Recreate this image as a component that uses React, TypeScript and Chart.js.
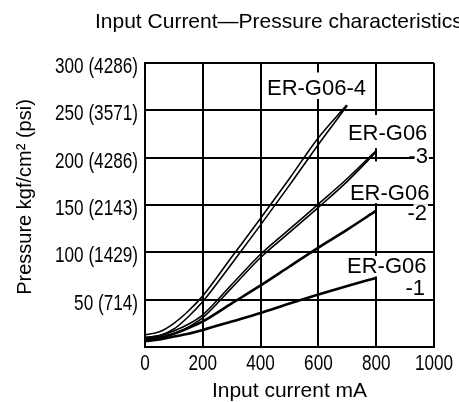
import React, { useEffect, useRef } from 'react';
import { Chart, registerables } from 'chart.js';

Chart.register(...registerables);

// ---------- text ----------
const TITLE = 'Input Current—Pressure characteristics';
const X_TITLE = 'Input current mA';
const Y_TITLE = 'Pressure kgf/cm² (psi)';

// ---------- ticks ----------
const X_TICK_VALUES = [0, 200, 400, 600, 800, 1000];
const X_TICK_LABELS = ['0', '200', '400', '600', '800', '1000'];
const Y_TICK_VALUES = [0, 50, 100, 150, 200, 250, 300];
const Y_TICK_LABELS = ['', '50 (714)', '100 (1429)', '150 (2143)', '200 (4286)', '250 (3571)', '300 (4286)'];

// ---------- series (input current mA -> pressure kgf/cm²) ----------
// ER-G06-4 (hysteresis pair)
const G4_UP_X = [0, 50, 100, 150, 200, 300, 400, 500, 600, 698];
const G4_UP_Y = [13, 16, 25, 38, 54, 95, 136, 178, 221, 255.5];
const G4_DN_X = [0, 50, 100, 150, 200, 300, 400, 500, 600, 700];
const G4_DN_Y = [10, 12, 19, 32, 48, 88, 129, 171, 214, 255];
// ER-G06-3 (hysteresis pair)
const G3_UP_X = [0, 50, 100, 150, 200, 300, 400, 500, 600, 700, 798];
const G3_UP_Y = [10, 12, 17, 24, 34, 66, 98, 124.5, 151, 178, 207];
const G3_DN_X = [0, 50, 100, 150, 200, 300, 400, 500, 600, 700, 800];
const G3_DN_Y = [8, 10, 14, 21, 31, 62.5, 94.5, 121, 147.5, 175, 206];
// ER-G06-2
const G2_X = [0, 50, 100, 150, 200, 300, 400, 500, 600, 700, 800];
const G2_Y = [8, 10, 14, 20, 27, 46, 65, 85, 105, 124, 144];
// ER-G06-1
const G1_X = [0, 50, 100, 150, 200, 300, 400, 500, 600, 700, 800];
const G1_Y = [6, 8, 11, 14, 18, 27, 36, 46, 55.5, 64.5, 73];

// ---------- curve labels ----------
const LABEL_LINES = [['ER-G06-4'], ['ER-G06', '-3'], ['ER-G06', '-2'], ['ER-G06', '-1']];

// label placement in data units: first line left x / baseline y, second line right x / baseline y,
// and a white mask [x0, x1, y0, y1] behind the first line
const LABEL_PLACE = [
  { x1: 422, y1: 266, x2: 0, y2: 0, mask: [412, 775, 290, 262] },
  { x1: 702, y1: 218.5, x2: 979, y2: 194.5, mask: [695, 1000, 245, 210] },
  { x1: 709, y1: 155, x2: 976, y2: 134, mask: [700, 1000, 196, 152] },
  { x1: 699, y1: 78, x2: 969, y2: 55, mask: [692, 1000, 96, 74.5] },
];

const SANS = "'Liberation Sans', Arial, Helvetica, sans-serif";
const TICK_FONT = `22px ${SANS}`;
const TICK_SQUEEZE = 0.78; // the reference uses a condensed face for tick numbers

const pts = (xs: number[], ys: number[]) => xs.map((x, i) => ({ x, y: ys[i] }));

const annotPlugin = {
  id: 'annot',
  beforeDatasetsDraw(chart: any) {
    const { ctx, scales } = chart;
    const xs = scales.x;
    const ys = scales.y;
    const rightLimit = xs.getPixelForValue(1000) - 1.5;
    ctx.save();
    ctx.fillStyle = '#ffffff';
    LABEL_PLACE.forEach((p) => {
      const [a, b, c, d] = p.mask;
      const px0 = xs.getPixelForValue(a);
      const px1 = Math.min(xs.getPixelForValue(b), rightLimit);
      const py0 = ys.getPixelForValue(c);
      const py1 = ys.getPixelForValue(d);
      ctx.fillRect(px0, py0, px1 - px0, py1 - py0);
    });
    ctx.restore();
  },
  afterDatasetsDraw(chart: any) {
    const { ctx, scales } = chart;
    const xs = scales.x;
    const ys = scales.y;
    ctx.save();
    ctx.font = `22px ${SANS}`;
    ctx.textBaseline = 'alphabetic';
    LABEL_LINES.forEach((lines, i) => {
      const p = LABEL_PLACE[i];
      ctx.fillStyle = '#000';
      ctx.textAlign = 'left';
      ctx.fillText(lines[0], xs.getPixelForValue(p.x1), ys.getPixelForValue(p.y1));
      if (lines[1]) {
        const rx = xs.getPixelForValue(p.x2);
        const by = ys.getPixelForValue(p.y2);
        const w = ctx.measureText(lines[1]).width;
        ctx.fillStyle = '#fff';
        ctx.fillRect(rx - w + 6, by - 16, w - 5, 17);
        ctx.fillStyle = '#000';
        ctx.textAlign = 'right';
        ctx.fillText(lines[1], rx, by);
      }
    });
    ctx.restore();
  },
  afterDraw(chart: any) {
    const { ctx, scales } = chart;
    const xs = scales.x;
    const ys = scales.y;
    ctx.save();
    ctx.fillStyle = '#000';

    // tick labels (condensed)
    ctx.font = TICK_FONT;
    ctx.textBaseline = 'alphabetic';
    ctx.textAlign = 'right';
    Y_TICK_VALUES.forEach((v, i) => {
      const py = ys.getPixelForValue(v);
      ctx.save();
      ctx.translate(ys.right - 7, py + 10);
      ctx.scale(TICK_SQUEEZE, 1);
      ctx.fillText(Y_TICK_LABELS[i], 0, 0);
      ctx.restore();
    });
    ctx.textAlign = 'center';
    X_TICK_VALUES.forEach((v, i) => {
      const px = xs.getPixelForValue(v);
      ctx.save();
      ctx.translate(px, xs.top + 23);
      ctx.scale(TICK_SQUEEZE, 1);
      ctx.fillText(X_TICK_LABELS[i], 0, 0);
      ctx.restore();
    });

    // chart title
    ctx.font = `21px ${SANS}`;
    ctx.textAlign = 'left';
    ctx.fillText(TITLE, 95, 28);

    // y-axis title
    ctx.translate(31, 197);
    ctx.rotate(-Math.PI / 2);
    ctx.font = `20px ${SANS}`;
    ctx.textAlign = 'center';
    ctx.fillText(Y_TITLE, 0, 0);
    ctx.restore();
  },
};

export default function App() {
  const ref = useRef<HTMLCanvasElement>(null);

  useEffect(() => {
    const canvas = ref.current;
    if (!canvas) return;
    const lineBase = {
      borderColor: '#000',
      backgroundColor: '#000',
      pointRadius: 0,
      fill: false,
      cubicInterpolationMode: 'monotone' as const,
      borderCapStyle: 'butt' as const,
    };
    const chart = new Chart(canvas, {
      type: 'line',
      data: {
        datasets: [
          { ...lineBase, label: 'ER-G06-4 up', data: pts(G4_UP_X, G4_UP_Y), borderWidth: 1.6 },
          { ...lineBase, label: 'ER-G06-4 down', data: pts(G4_DN_X, G4_DN_Y), borderWidth: 1.6 },
          { ...lineBase, label: 'ER-G06-3 up', data: pts(G3_UP_X, G3_UP_Y), borderWidth: 1.6 },
          { ...lineBase, label: 'ER-G06-3 down', data: pts(G3_DN_X, G3_DN_Y), borderWidth: 1.6 },
          { ...lineBase, label: 'ER-G06-2', data: pts(G2_X, G2_Y), borderWidth: 2.6 },
          { ...lineBase, label: 'ER-G06-1', data: pts(G1_X, G1_Y), borderWidth: 2.6 },
        ],
      },
      options: {
        animation: false,
        responsive: false,
        devicePixelRatio: 1,
        layout: { padding: { top: 63, right: 25, left: 0, bottom: 0 } },
        plugins: {
          legend: { display: false },
          tooltip: { enabled: false },
          title: { display: false },
        },
        scales: {
          x: {
            type: 'linear',
            min: 0,
            max: 1000,
            afterBuildTicks: (s: any) => {
              s.ticks = X_TICK_VALUES.map((v) => ({ value: v }));
            },
            afterFit: (s: any) => {
              s.height = 55;
            },
            ticks: {
              display: false,
              autoSkip: false,
              callback: (_v: any, i: number) => X_TICK_LABELS[i],
            },
            grid: { color: '#000', lineWidth: 2, drawTicks: false },
            border: { color: '#000', width: 2 },
            title: {
              display: true,
              text: X_TITLE,
              color: '#000',
              font: { family: SANS, size: 21 },
              padding: { top: 0, bottom: -2 },
            },
          },
          y: {
            type: 'linear',
            min: 0,
            max: 300,
            afterBuildTicks: (s: any) => {
              s.ticks = Y_TICK_VALUES.map((v) => ({ value: v }));
            },
            afterFit: (s: any) => {
              s.width = 145;
            },
            ticks: {
              display: false,
              autoSkip: false,
              callback: (_v: any, i: number) => Y_TICK_LABELS[i],
            },
            grid: { color: '#000', lineWidth: 2, drawTicks: false },
            border: { color: '#000', width: 2 },
          },
        },
      },
      plugins: [annotPlugin],
    });
    return () => chart.destroy();
  }, []);

  return (
    <div style={{ position: 'absolute', left: 0, top: 0, width: 459, height: 402, background: '#fff' }}>
      <canvas ref={ref} width={459} height={402} style={{ display: 'block', width: 459, height: 402 }} />
    </div>
  );
}
